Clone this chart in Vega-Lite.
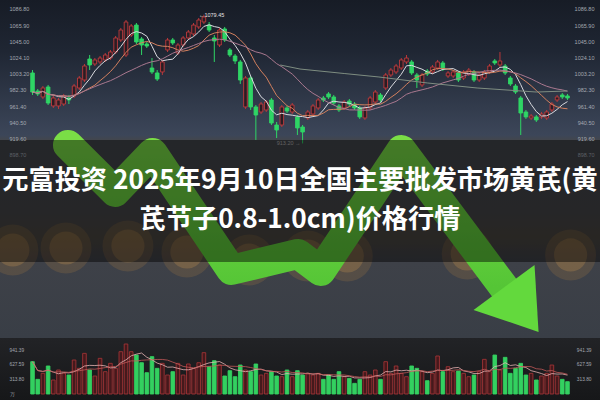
{
  "$schema": "https://vega.github.io/schema/vega-lite/v6.json",
  "width": 600,
  "height": 400,
  "padding": 0,
  "autosize": {"type": "fit", "contains": "padding"},
  "background": "#1b1c1f",
  "config": {
    "view": {"stroke": null},
    "axis": {"domain": false, "ticks": false, "tickSize": 0, "grid": false, "labelFont": "Liberation Sans", "labelFontSize": 5.5, "labelColor": "#a3a8b1", "zindex": 2, "labelOverlap": false, "labelFlush": false, "minExtent": 0, "maxExtent": 0}
  },
  "datasets": {
    "candles": [
      {"i":0,"o":1004.2,"c":979.6,"h":1008.0,"l":975.8,"v":695},
      {"i":1,"o":980.9,"c":977.1,"h":983.5,"l":974.5,"v":315},
      {"i":2,"o":973.2,"c":984.8,"h":987.4,"l":970.6,"v":444},
      {"i":3,"o":986.1,"c":965.4,"h":988.7,"l":962.8,"v":602},
      {"i":4,"o":961.6,"c":971.9,"h":974.5,"l":959.0,"v":301},
      {"i":5,"o":961.6,"c":969.3,"h":971.9,"l":957.7,"v":516},
      {"i":6,"o":964.1,"c":974.5,"h":977.1,"l":961.6,"v":444},
      {"i":7,"o":971.9,"c":969.3,"h":975.8,"l":964.1,"v":408},
      {"i":8,"o":974.5,"c":987.4,"h":990.0,"l":971.9,"v":731},
      {"i":9,"o":984.8,"c":997.7,"h":1000.3,"l":982.2,"v":552},
      {"i":10,"o":995.1,"c":1013.2,"h":1015.8,"l":992.5,"v":874},
      {"i":11,"o":1022.2,"c":1014.5,"h":1027.4,"l":1008.0,"v":516},
      {"i":12,"o":1015.8,"c":1021.0,"h":1023.5,"l":1013.2,"v":387},
      {"i":13,"o":1018.4,"c":1023.5,"h":1026.1,"l":1015.8,"v":767},
      {"i":14,"o":1021.0,"c":1027.4,"h":1030.0,"l":1018.4,"v":480},
      {"i":15,"o":1023.5,"c":1031.3,"h":1033.9,"l":1021.0,"v":659},
      {"i":16,"o":1031.3,"c":1049.4,"h":1051.9,"l":1028.7,"v":552},
      {"i":17,"o":1046.8,"c":1059.7,"h":1062.3,"l":1044.2,"v":910},
      {"i":18,"o":1027.4,"c":1070.0,"h":1072.6,"l":1024.8,"v":1075},
      {"i":19,"o":1053.2,"c":1064.9,"h":1067.4,"l":1050.7,"v":910},
      {"i":20,"o":1066.1,"c":1044.2,"h":1068.7,"l":1041.6,"v":838},
      {"i":21,"o":1048.1,"c":1040.3,"h":1050.7,"l":1027.4,"v":673},
      {"i":22,"o":1041.6,"c":1039.0,"h":1044.2,"l":1036.4,"v":458},
      {"i":23,"o":1010.6,"c":1005.5,"h":1023.5,"l":1002.9,"v":803},
      {"i":24,"o":1004.2,"c":996.4,"h":1008.0,"l":993.8,"v":552},
      {"i":25,"o":1005.5,"c":1018.4,"h":1021.0,"l":1001.6,"v":659},
      {"i":26,"o":1033.9,"c":1046.8,"h":1049.4,"l":1031.3,"v":408},
      {"i":27,"o":1046.8,"c":1042.9,"h":1049.4,"l":1040.3,"v":480},
      {"i":28,"o":1030.0,"c":1040.3,"h":1042.9,"l":1027.4,"v":659},
      {"i":29,"o":1040.3,"c":1049.4,"h":1051.9,"l":1037.7,"v":408},
      {"i":30,"o":1049.4,"c":1057.1,"h":1059.7,"l":1046.8,"v":645},
      {"i":31,"o":1054.5,"c":1066.1,"h":1068.7,"l":1051.9,"v":552},
      {"i":32,"o":1063.6,"c":1072.6,"h":1075.2,"l":1061.0,"v":673},
      {"i":33,"o":1070.0,"c":1076.5,"h":1079.45,"l":1067.4,"v":889},
      {"i":34,"o":1066.1,"c":1059.7,"h":1070.0,"l":1057.1,"v":587},
      {"i":35,"o":1049.4,"c":1045.5,"h":1053.2,"l":1018.4,"v":716},
      {"i":36,"o":1040.3,"c":1059.7,"h":1062.3,"l":1037.7,"v":623},
      {"i":37,"o":1061.0,"c":1046.8,"h":1063.6,"l":1044.2,"v":387},
      {"i":38,"o":1033.9,"c":1027.4,"h":1036.4,"l":1024.8,"v":501},
      {"i":39,"o":1026.1,"c":1019.7,"h":1028.7,"l":1015.8,"v":372},
      {"i":40,"o":1018.4,"c":995.1,"h":1021.0,"l":990.0,"v":623},
      {"i":41,"o":960.3,"c":997.7,"h":1000.3,"l":957.7,"v":516},
      {"i":42,"o":997.7,"c":960.3,"h":1000.3,"l":956.4,"v":480},
      {"i":43,"o":960.3,"c":949.9,"h":962.8,"l":917.7,"v":645},
      {"i":44,"o":953.8,"c":964.1,"h":966.7,"l":951.2,"v":408},
      {"i":45,"o":956.4,"c":966.7,"h":969.3,"l":953.8,"v":444},
      {"i":46,"o":969.3,"c":939.6,"h":971.9,"l":937.0,"v":480},
      {"i":47,"o":937.0,"c":930.6,"h":940.9,"l":920.2,"v":387},
      {"i":48,"o":937.0,"c":960.3,"h":962.8,"l":934.4,"v":372},
      {"i":49,"o":959.0,"c":955.1,"h":961.6,"l":952.5,"v":516},
      {"i":50,"o":953.8,"c":962.8,"h":965.4,"l":951.2,"v":372},
      {"i":51,"o":947.4,"c":933.2,"h":949.9,"l":924.1,"v":501},
      {"i":52,"o":934.4,"c":928.0,"h":937.0,"l":913.2,"v":408},
      {"i":53,"o":946.1,"c":953.8,"h":956.4,"l":943.5,"v":444},
      {"i":54,"o":951.2,"c":961.6,"h":964.1,"l":948.6,"v":408},
      {"i":55,"o":959.0,"c":969.3,"h":971.9,"l":956.4,"v":444},
      {"i":56,"o":971.9,"c":969.3,"h":974.5,"l":966.7,"v":315},
      {"i":57,"o":977.1,"c":973.2,"h":979.6,"l":970.6,"v":408},
      {"i":58,"o":973.2,"c":965.4,"h":975.8,"l":962.8,"v":315},
      {"i":59,"o":961.6,"c":956.4,"h":964.1,"l":953.8,"v":480},
      {"i":60,"o":959.0,"c":966.7,"h":969.3,"l":956.4,"v":372},
      {"i":61,"o":968.0,"c":964.1,"h":970.6,"l":961.6,"v":336},
      {"i":62,"o":964.1,"c":959.0,"h":966.7,"l":956.4,"v":229},
      {"i":63,"o":959.0,"c":947.4,"h":961.6,"l":944.8,"v":315},
      {"i":64,"o":946.1,"c":959.0,"h":961.6,"l":943.5,"v":480},
      {"i":65,"o":959.0,"c":971.9,"h":974.5,"l":956.4,"v":408},
      {"i":66,"o":966.7,"c":979.6,"h":982.2,"l":964.1,"v":516},
      {"i":67,"o":975.8,"c":969.3,"h":978.3,"l":966.7,"v":315},
      {"i":68,"o":984.8,"c":1001.6,"h":1004.2,"l":982.2,"v":695},
      {"i":69,"o":1001.6,"c":1008.0,"h":1010.6,"l":999.0,"v":444},
      {"i":70,"o":1005.5,"c":1013.2,"h":1015.8,"l":1002.9,"v":602},
      {"i":71,"o":1010.6,"c":1021.0,"h":1023.5,"l":1008.0,"v":444},
      {"i":72,"o":1018.4,"c":1023.5,"h":1027.4,"l":1015.8,"v":372},
      {"i":73,"o":1018.4,"c":1004.2,"h":1021.0,"l":1001.6,"v":602},
      {"i":74,"o":1001.6,"c":995.1,"h":1004.2,"l":984.8,"v":552},
      {"i":75,"o":988.7,"c":1001.6,"h":1004.2,"l":986.1,"v":480},
      {"i":76,"o":1006.7,"c":1002.9,"h":1009.3,"l":1000.3,"v":286},
      {"i":77,"o":1005.5,"c":1011.9,"h":1014.5,"l":1002.9,"v":444},
      {"i":78,"o":1010.6,"c":1018.4,"h":1021.0,"l":1008.0,"v":817},
      {"i":79,"o":1017.1,"c":1009.3,"h":1019.7,"l":1006.7,"v":480},
      {"i":80,"o":1000.3,"c":1004.2,"h":1006.7,"l":997.7,"v":587},
      {"i":81,"o":1000.3,"c":1005.5,"h":1008.0,"l":997.7,"v":480},
      {"i":82,"o":1004.2,"c":995.1,"h":1006.7,"l":992.5,"v":494},
      {"i":83,"o":997.7,"c":1005.5,"h":1008.0,"l":995.1,"v":444},
      {"i":84,"o":1002.9,"c":1008.0,"h":1010.6,"l":1000.3,"v":372},
      {"i":85,"o":1005.5,"c":995.1,"h":1008.0,"l":992.5,"v":408},
      {"i":86,"o":995.1,"c":1001.6,"h":1004.2,"l":992.5,"v":480},
      {"i":87,"o":997.7,"c":1005.5,"h":1008.0,"l":995.1,"v":745},
      {"i":88,"o":1005.5,"c":1013.2,"h":1015.8,"l":1002.9,"v":480},
      {"i":89,"o":1019.7,"c":1017.1,"h":1022.2,"l":1014.5,"v":838},
      {"i":90,"o":1014.5,"c":1019.7,"h":1031.3,"l":1011.9,"v":516},
      {"i":91,"o":1013.2,"c":1004.2,"h":1015.8,"l":1001.6,"v":788},
      {"i":92,"o":997.7,"c":990.0,"h":1000.3,"l":987.4,"v":444},
      {"i":93,"o":987.4,"c":979.6,"h":990.0,"l":977.1,"v":552},
      {"i":94,"o":971.9,"c":952.5,"h":974.5,"l":924.1,"v":659},
      {"i":95,"o":953.8,"c":947.4,"h":956.4,"l":944.8,"v":408},
      {"i":96,"o":946.1,"c":948.6,"h":951.2,"l":943.5,"v":444},
      {"i":97,"o":947.4,"c":943.5,"h":949.9,"l":940.9,"v":301},
      {"i":98,"o":947.4,"c":951.2,"h":953.8,"l":944.8,"v":387},
      {"i":99,"o":946.1,"c":953.8,"h":956.4,"l":943.5,"v":444},
      {"i":100,"o":956.4,"c":964.1,"h":966.7,"l":953.8,"v":623},
      {"i":101,"o":969.3,"c":973.2,"h":975.8,"l":966.7,"v":387},
      {"i":102,"o":975.8,"c":973.2,"h":978.3,"l":970.6,"v":315},
      {"i":103,"o":974.5,"c":971.9,"h":977.1,"l":969.3,"v":265}
    ],
    "ma60": [
      {"i":47.7,"p":1014.5},{"i":51.5,"p":1009.3},{"i":60,"p":1003.5},{"i":66.7,"p":999.0},
      {"i":76,"p":991.3},{"i":85.6,"p":984.8},{"i":97,"p":979.6},{"i":103,"p":980.9}
    ],
    "arrow": [
      {"k":1,"i":6.82,"p":911.2},{"k":2,"i":15.91,"p":850.5},{"k":3,"i":23.11,"p":900.9},
      {"k":4,"i":38.26,"p":749.8},{"k":5,"i":51.14,"p":770.5},{"k":6,"i":55.5,"p":748.5},
      {"k":7,"i":71.02,"p":904.7},{"k":8,"i":90.72,"p":727.8}
    ],
    "head": [{"i":93.0,"p":708.1}],
    "bokeh": [
      {"i":-3.79,"p":775.6},{"i":6.44,"p":778.2},{"i":18.37,"p":780.8},{"i":29.73,"p":773.0},
      {"i":41.67,"p":762.7},{"i":53.03,"p":767.9},{"i":60.6,"p":767.9},{"i":83.7,"p":770.5},
      {"i":103.6,"p":769.2}
    ]
  },
  "resolve": {"scale": {"y": "independent"}},
  "layer": [
    {
      "data": {"values": [{}]},
      "mark": {"type": "rect", "color": {"gradient": "linear", "x1": 0, "y1": 0, "x2": 0, "y2": 1, "stops": [
        {"offset": 0, "color": "#171c26"}, {"offset": 0.15, "color": "#1f2633"}, {"offset": 0.40, "color": "#3c4659"},
        {"offset": 0.415, "color": "#43464c"}, {"offset": 0.62, "color": "#45464a"}, {"offset": 0.70, "color": "#4a4641"},
        {"offset": 0.775, "color": "#3e4148"}, {"offset": 1, "color": "#393e46"}]}},
      "encoding": {
        "y": {"datum": 1098.42, "type": "quantitative", "scale": {"domain": [581.9, 1098.42], "nice": false, "zero": false}, "axis": null},
        "y2": {"datum": 662.0}
      }
    },
    {
      "data": {"name": "bokeh"},
      "mark": {"type": "point", "shape": "circle", "filled": true, "size": 2600, "color": "#b98240", "opacity": 0.2, "strokeWidth": 0, "clip": true},
      "encoding": {
        "x": {"field": "i", "type": "quantitative", "scale": {"domain": [-5.3, 108.3], "nice": false, "zero": false}, "axis": null},
        "y": {"field": "p", "type": "quantitative", "scale": {"domain": [581.9, 1098.42], "nice": false, "zero": false}, "axis": null}
      }
    },
    {
      "data": {"name": "bokeh"},
      "mark": {"type": "point", "shape": "circle", "filled": true, "size": 1100, "color": "#d49a50", "opacity": 0.25, "strokeWidth": 0, "clip": true},
      "encoding": {
        "x": {"field": "i", "type": "quantitative", "scale": {"domain": [-5.3, 108.3], "nice": false, "zero": false}, "axis": null},
        "y": {"field": "p", "type": "quantitative", "scale": {"domain": [581.9, 1098.42], "nice": false, "zero": false}, "axis": null}
      }
    },
    {
      "data": {"name": "candles"},
      "mark": {"type": "rule", "strokeWidth": 1},
      "encoding": {
        "x": {"field": "i", "type": "quantitative", "scale": {"domain": [-5.3, 108.3], "nice": false, "zero": false}, "axis": null},
        "y": {"field": "l", "type": "quantitative", "scale": {"domain": [581.9, 1098.42], "nice": false, "zero": false}, "axis": null},
        "y2": {"field": "h"},
        "color": {"condition": {"test": "datum.c >= datum.o", "value": "#b8383a"}, "value": "#2fd565"}
      }
    },
    {
      "data": {"name": "candles"},
      "mark": {"type": "bar", "orient": "vertical", "size": 3.6, "strokeWidth": 0.9},
      "encoding": {
        "x": {"field": "i", "type": "quantitative", "scale": {"domain": [-5.3, 108.3], "nice": false, "zero": false}, "axis": null},
        "y": {"field": "o", "type": "quantitative", "scale": {"domain": [581.9, 1098.42], "nice": false, "zero": false}, "axis": null},
        "y2": {"field": "c"},
        "fill": {"condition": {"test": "datum.c >= datum.o", "value": "#2a1d24"}, "value": "#2fd565"},
        "stroke": {"condition": {"test": "datum.c >= datum.o", "value": "#bf3b3d"}, "value": "#2fd565"}
      }
    },
    {
      "data": {"name": "candles"},
      "transform": [{"window": [{"op": "mean", "field": "c", "as": "m"}], "frame": [-4, 0], "sort": [{"field": "i"}]}],
      "mark": {"type": "line", "strokeWidth": 1, "color": "#d9dadf"},
      "encoding": {
        "x": {"field": "i", "type": "quantitative", "scale": {"domain": [-5.3, 108.3], "nice": false, "zero": false}, "axis": null},
        "y": {"field": "m", "type": "quantitative", "scale": {"domain": [581.9, 1098.42], "nice": false, "zero": false}, "axis": null}
      }
    },
    {
      "data": {"name": "candles"},
      "transform": [{"window": [{"op": "mean", "field": "c", "as": "m"}], "frame": [-9, 0], "sort": [{"field": "i"}]}],
      "mark": {"type": "line", "strokeWidth": 1, "color": "#d3805e"},
      "encoding": {
        "x": {"field": "i", "type": "quantitative", "scale": {"domain": [-5.3, 108.3], "nice": false, "zero": false}, "axis": null},
        "y": {"field": "m", "type": "quantitative", "scale": {"domain": [581.9, 1098.42], "nice": false, "zero": false}, "axis": null}
      }
    },
    {
      "data": {"name": "candles"},
      "transform": [{"window": [{"op": "mean", "field": "c", "as": "m"}], "frame": [-19, 0], "sort": [{"field": "i"}]}],
      "mark": {"type": "line", "strokeWidth": 1, "color": "#a9788f"},
      "encoding": {
        "x": {"field": "i", "type": "quantitative", "scale": {"domain": [-5.3, 108.3], "nice": false, "zero": false}, "axis": null},
        "y": {"field": "m", "type": "quantitative", "scale": {"domain": [581.9, 1098.42], "nice": false, "zero": false}, "axis": null}
      }
    },
    {
      "data": {"name": "ma60"},
      "mark": {"type": "line", "strokeWidth": 1, "color": "#7e8d81"},
      "encoding": {
        "x": {"field": "i", "type": "quantitative", "scale": {"domain": [-5.3, 108.3], "nice": false, "zero": false}, "axis": null},
        "y": {"field": "p", "type": "quantitative", "scale": {"domain": [581.9, 1098.42], "nice": false, "zero": false}, "axis": null}
      }
    },
    {
      "data": {"name": "candles"},
      "transform": [{"filter": "datum.i == 33"}],
      "mark": {"type": "text", "text": "←1079.45", "align": "left", "baseline": "middle", "dx": -5, "fontSize": 5.5, "font": "Liberation Sans", "color": "#e4e4e4"},
      "encoding": {
        "x": {"field": "i", "type": "quantitative", "scale": {"domain": [-5.3, 108.3], "nice": false, "zero": false}, "axis": null},
        "y": {"field": "h", "type": "quantitative", "scale": {"domain": [581.9, 1098.42], "nice": false, "zero": false},
          "axis": {"orient": "left", "values": [1086.8, 1065.9, 1045.0, 1024.1, 1003.2, 982.3, 961.4, 940.5, 919.6, 898.7], "format": ".2f", "labelAlign": "left", "labelBaseline": "middle", "labelPadding": -9, "zindex": 2, "minExtent": 0,
            "labelColor": {"condition": {"test": "datum.value < 900", "value": "#5d6066"}, "value": "#a3a8b1"}, "title": null}}
      }
    },
    {
      "data": {"name": "candles"},
      "transform": [{"filter": "datum.i == 52"}],
      "mark": {"type": "text", "text": "913.20 →", "align": "right", "baseline": "middle", "dx": -2, "fontSize": 5.5, "font": "Liberation Sans", "color": "#b0b0b0"},
      "encoding": {
        "x": {"field": "i", "type": "quantitative", "scale": {"domain": [-5.3, 108.3], "nice": false, "zero": false}, "axis": null},
        "y": {"field": "l", "type": "quantitative", "scale": {"domain": [581.9, 1098.42], "nice": false, "zero": false},
          "axis": {"orient": "right", "values": [1086.8, 1065.9, 1045.0, 1024.1, 1003.2, 982.3, 961.4, 940.5, 919.6, 898.7], "format": ".2f", "labelAlign": "right", "labelBaseline": "middle", "labelPadding": -6, "zindex": 2, "minExtent": 0,
            "labelColor": {"condition": {"test": "datum.value < 900", "value": "#5d6066"}, "value": "#a3a8b1"}, "title": null}}
      }
    },
    {
      "data": {"name": "arrow"},
      "mark": {"type": "line", "strokeWidth": 30, "strokeCap": "round", "strokeJoin": "round",
        "color": {"gradient": "linear", "x1": 0, "y1": 0, "x2": 0, "y2": 1, "stops": [{"offset": 0, "color": "#7ade46"}, {"offset": 1, "color": "#55c536"}]}},
      "encoding": {
        "x": {"field": "i", "type": "quantitative", "scale": {"domain": [-5.3, 108.3], "nice": false, "zero": false}, "axis": null},
        "y": {"field": "p", "type": "quantitative", "scale": {"domain": [581.9, 1098.42], "nice": false, "zero": false}, "axis": null},
        "order": {"field": "k"}
      }
    },
    {
      "data": {"name": "head"},
      "mark": {"type": "point", "shape": "M0.452,-0.888L-1,0.183L0.548,0.707Z", "size": 7056, "filled": true, "color": "#63d93d", "opacity": 1, "strokeWidth": 0},
      "encoding": {
        "x": {"field": "i", "type": "quantitative", "scale": {"domain": [-5.3, 108.3], "nice": false, "zero": false}, "axis": null},
        "y": {"field": "p", "type": "quantitative", "scale": {"domain": [581.9, 1098.42], "nice": false, "zero": false}, "axis": null}
      }
    },
    {
      "data": {"values": [{}]},
      "mark": {"type": "rect", "color": "#000000", "opacity": 0.45},
      "encoding": {
        "y": {"datum": 917.65, "type": "quantitative", "scale": {"domain": [581.9, 1098.42], "nice": false, "zero": false}, "axis": null},
        "y2": {"datum": 760.1}
      }
    },
    {
      "data": {"values": [{"t": "元富投资 2025年9月10日全国主要批发市场黄芪(黄"}]},
      "mark": {"type": "text", "font": "Noto Sans CJK SC", "fontWeight": "bold", "fontSize": 26.2, "color": "#ffffff", "dy": -19, "align": "center", "baseline": "middle"},
      "encoding": {"text": {"field": "t"}}
    },
    {
      "data": {"values": [{"t": "芪节子0.8-1.0cm)价格行情"}]},
      "mark": {"type": "text", "font": "Noto Sans CJK SC", "fontWeight": "bold", "fontSize": 26.2, "color": "#ffffff", "dy": 19.5, "align": "center", "baseline": "middle"},
      "encoding": {"text": {"field": "t"}}
    },
    {
      "data": {"values": [{}]},
      "mark": {"type": "rect", "color": {"gradient": "linear", "x1": 0, "y1": 0, "x2": 0, "y2": 1, "stops": [{"offset": 0, "color": "#222326"}, {"offset": 1, "color": "#161719"}]}},
      "encoding": {
        "y": {"datum": 662.0, "type": "quantitative", "scale": {"domain": [581.9, 1098.42], "nice": false, "zero": false}, "axis": null},
        "y2": {"datum": 581.9}
      }
    },
    {
      "data": {"name": "candles"},
      "mark": {"type": "bar", "orient": "vertical", "size": 3.6, "strokeWidth": 0.9},
      "encoding": {
        "x": {"field": "i", "type": "quantitative", "scale": {"domain": [-5.3, 108.3], "nice": false, "zero": false}, "axis": null},
        "y": {"field": "v", "type": "quantitative", "scale": {"domain": [-129, 8473], "nice": false, "zero": false}, "axis": null},
        "y2": {"datum": 0},
        "fill": {"condition": {"test": "datum.c >= datum.o", "value": "#45191c"}, "value": "#33d060"},
        "stroke": {"condition": {"test": "datum.c >= datum.o", "value": "#9e3336"}, "value": "#33d060"}
      }
    },
    {
      "data": {"name": "candles"},
      "transform": [{"window": [{"op": "mean", "field": "v", "as": "m"}], "frame": [-4, 0], "sort": [{"field": "i"}]}],
      "mark": {"type": "line", "strokeWidth": 0.8, "color": "#e6b3b3"},
      "encoding": {
        "x": {"field": "i", "type": "quantitative", "scale": {"domain": [-5.3, 108.3], "nice": false, "zero": false}, "axis": null},
        "y": {"field": "m", "type": "quantitative", "scale": {"domain": [-129, 8473], "nice": false, "zero": false},
          "axis": {"orient": "left", "values": [0, 313.8, 627.59, 941.39], "labelExpr": "datum.value == 0 ? '万' : format(datum.value, '.2f')", "labelAlign": "left", "labelBaseline": "middle", "labelPadding": -9, "labelFontSize": 4.8, "zindex": 2, "minExtent": 0, "title": null}}
      }
    },
    {
      "data": {"name": "candles"},
      "transform": [{"window": [{"op": "mean", "field": "v", "as": "m"}], "frame": [-9, 0], "sort": [{"field": "i"}]}],
      "mark": {"type": "line", "strokeWidth": 0.8, "color": "#c25858"},
      "encoding": {
        "x": {"field": "i", "type": "quantitative", "scale": {"domain": [-5.3, 108.3], "nice": false, "zero": false}, "axis": null},
        "y": {"field": "m", "type": "quantitative", "scale": {"domain": [-129, 8473], "nice": false, "zero": false},
          "axis": {"orient": "right", "values": [313.8, 627.59, 941.39], "format": ".2f", "labelAlign": "right", "labelBaseline": "middle", "labelPadding": -9, "labelFontSize": 4.8, "zindex": 2, "minExtent": 0, "title": null}}
      }
    }
  ]
}
